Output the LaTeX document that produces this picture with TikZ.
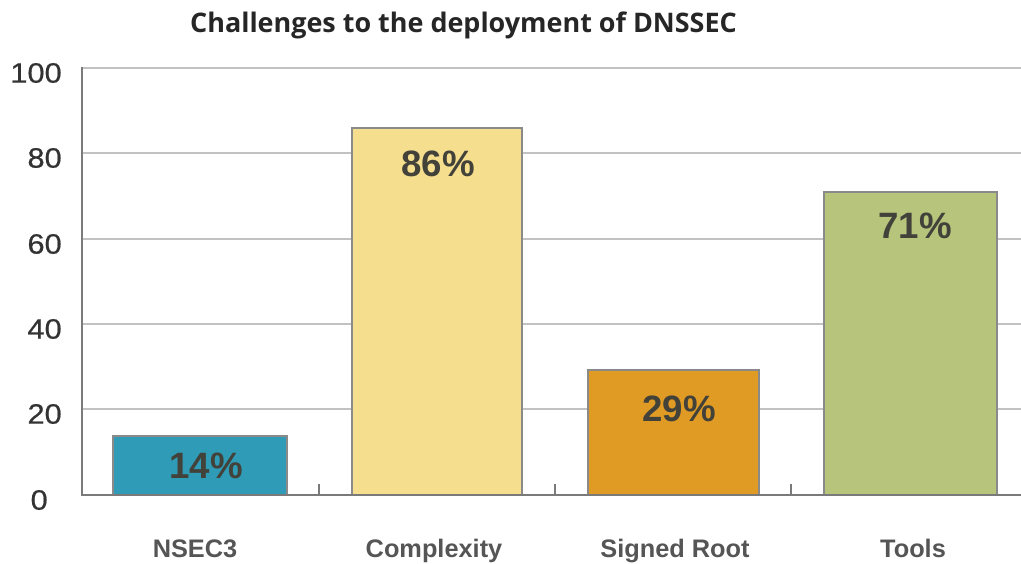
\documentclass[tikz,border=0pt]{standalone}
\usepackage{fontspec}
\setmainfont{Liberation Sans}
\newfontfamily\titlefont{Open Sans}
\newfontfamily\axisfont[FakeStretch=1.1,FakeBold=0.6]{Liberation Sans}
\definecolor{gridc}{HTML}{C2C2C2}
\definecolor{axisc}{HTML}{7A7A7A}
\definecolor{barline}{HTML}{8A8A8A}
\definecolor{tealbar}{HTML}{2F9BB6}
\definecolor{yellowbar}{HTML}{F5DE8E}
\definecolor{orangebar}{HTML}{E09B25}
\definecolor{greenbar}{HTML}{B6C47C}
\definecolor{ylab}{HTML}{333333}
\definecolor{catlab}{HTML}{555555}
\definecolor{vallab}{HTML}{42423A}
\tikzset{
  gridline/.style={draw=gridc, line width=2.2pt},
  axisline/.style={draw=axisc, line width=2.2pt},
  bar/.style={draw=barline, line width=0.8pt},
  ylabel/.style={anchor=east, inner sep=0pt, text=ylab, font=\axisfont\fontsize{21}{21}\selectfont},
  catlabel/.style={anchor=base, inner sep=0pt, text=catlab, font=\bfseries\fontsize{19}{19}\selectfont},
  vallabel/.style={inner sep=0pt, text=vallab, font=\bfseries\fontsize{27.5}{27.5}\selectfont},
}
\begin{document}
\begin{tikzpicture}[x=0.75pt, y=-0.75pt]
\useasboundingbox (0,0) rectangle (1021,564);
% title
\node[anchor=base, inner sep=0pt, text=black!85, font=\titlefont\bfseries\fontsize{20.2}{20.2}\selectfont] (title) at (463.5,32) {Challenges to the deployment of DNSSEC};
% grid lines
\foreach \v/\y in {100/68, 80/153, 60/239, 40/324, 20/409} {
  \draw[gridline] (82,\y) -- (1021,\y);
  \node[ylabel] (yl\v) at (62,\y+5) {\v};
}
\node[ylabel] (yl0) at (48,500) {0};
% bars
\draw[bar, fill=tealbar] (113,495) rectangle (287,436);
\draw[bar, fill=yellowbar] (352,495) rectangle (522,128);
\draw[bar, fill=orangebar] (588,495) rectangle (759,370);
\draw[bar, fill=greenbar] (824,495) rectangle (997,192);
% axes
\draw[axisline] (82,67) -- (82,496);
\draw[axisline] (81,495) -- (1021,495);
\foreach \x in {319,555,791} \draw[axisline] (\x,495) -- (\x,484);
% value labels
\node[vallabel] (v1) at (206,466) {14\%};
\node[vallabel] (v2) at (438,164) {86\%};
\node[vallabel] (v3) at (679,409) {29\%};
\node[vallabel] (v4) at (915,226) {71\%};
% category labels
\node[catlabel] (c1) at (195,557) {NSEC3};
\node[catlabel] (c2) at (434,557) {Complexity};
\node[catlabel] (c3) at (675,557) {Signed Root};
\node[catlabel] (c4) at (913,557) {Tools};
\end{tikzpicture}
\end{document}
